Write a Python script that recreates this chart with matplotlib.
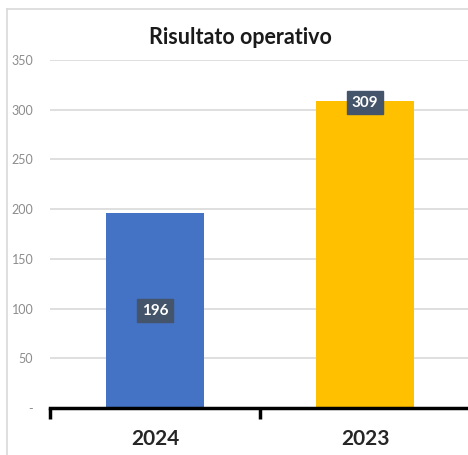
import matplotlib
matplotlib.use("Agg")
import matplotlib.pyplot as plt
from matplotlib.lines import Line2D

categories = ["2024", "2023"]
values = [196, 309]
colors = ["#4472C4", "#FFC000"]
yticks = [0, 50, 100, 150, 200, 250, 300, 350]
ytick_labels = ["-", "50", "100", "150", "200", "250", "300", "350"]
title = "Risultato operativo"

plt.rcParams['font.family'] = ['Lato', 'DejaVu Sans']

fig = plt.figure(figsize=(4.68, 4.55), dpi=100)
ax = fig.add_axes([50/468, 47/455, 420/468, 348/455])

x = list(range(len(categories)))
ax.bar(x, values, width=0.47, color=colors, zorder=3)
ax.set_xlim(-0.5, 1.5)
ax.set_ylim(0, 350)

ax.set_yticks(yticks)
ax.set_yticklabels(ytick_labels, fontsize=9, color="#8C8C8C")
ax.tick_params(axis='y', length=0, pad=12)
ax.yaxis.grid(True, color="#D9D9D9", linewidth=1.2, zorder=0)
for s in ["top", "right", "left"]:
    ax.spines[s].set_visible(False)
ax.spines["bottom"].set_linewidth(2.5)
ax.spines["bottom"].set_color("black")
ax.spines["bottom"].set_zorder(4)

ax.set_xticks([-0.5, 0.5, 1.5], minor=False)
ax.set_xticklabels(["", "", ""])
ax.tick_params(axis='x', which='major', length=8, width=2.5, color="black")
ax.set_xticks(x, minor=True)
ax.set_xticklabels(categories, minor=True, fontsize=15, fontweight="bold", color="#262626")
ax.tick_params(axis='x', which='minor', length=0, pad=15)

label_pos = [values[0] / 2, values[1] - 2]
for xi, v, yp in zip(x, values, label_pos):
    ax.text(xi, yp, f"{v}", ha="center", va="center", color="white", fontsize=11,
            fontweight="bold", zorder=5,
            bbox=dict(boxstyle="square,pad=0.3", facecolor="#44546A", edgecolor="#44546A"))

fig.text(240/468, 1 - 37/455, title, ha="center", va="center", fontsize=15.5,
         fontweight="bold", color="#1A1A1A")

fig.add_artist(Line2D([7/468, 7/468], [0, 1 - 9/455], transform=fig.transFigure,
                      color="#D9D9D9", linewidth=1.2))
fig.add_artist(Line2D([7/468, 1], [1 - 9/455, 1 - 9/455], transform=fig.transFigure,
                      color="#D9D9D9", linewidth=1.2))

fig.savefig("out.png", dpi=100)
